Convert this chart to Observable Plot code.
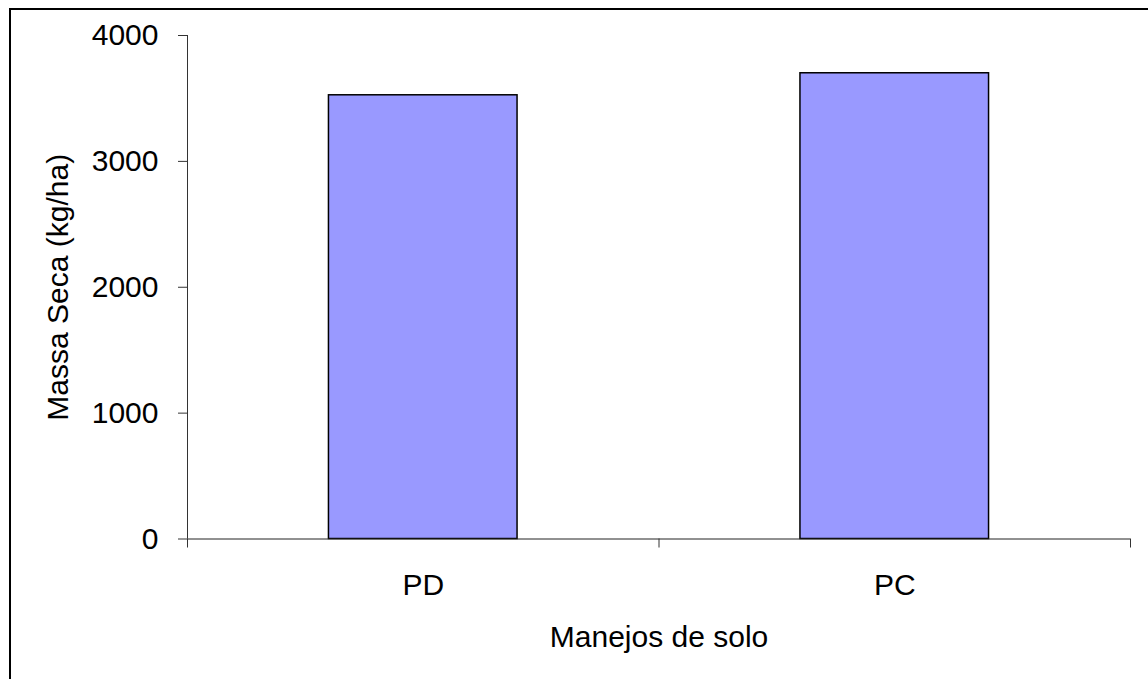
<!DOCTYPE html>
<html><head><meta charset="utf-8">
<script src="https://cdn.jsdelivr.net/npm/d3@7"></script>
<script src="https://cdn.jsdelivr.net/npm/@observablehq/plot@0.6"></script>
<style>
html,body{margin:0;padding:0;background:#fff;}
#wrap{position:relative;width:1148px;height:679px;overflow:hidden;}
#border{position:absolute;left:9px;top:8px;width:1200px;height:800px;border-left:2px solid #000;border-top:2px solid #000;box-sizing:border-box;pointer-events:none;}
</style></head><body>
<div id="wrap"><div id="chart"></div><div id="border"></div></div>
<script>
const categories = ["PD", "PC"];
const values = [3525, 3700];
const yTicks = [0, 1000, 2000, 3000, 4000];
const xLabel = "Manejos de solo";
const yLabel = "Massa Seca (kg/ha)";

const data = categories.map((c, i) => ({c, i, v: values[i]}));
const n = categories.length;
const font = "'Liberation Sans', Arial, sans-serif";

const chart = Plot.plot({
  width: 1148, height: 679,
  marginLeft: 187, marginRight: 18, marginTop: 35, marginBottom: 140.5,
  style: {fontFamily: font, fontSize: "30px", background: "transparent", color: "#000"},
  x: {type: "linear", domain: [0, n], axis: null},
  y: {domain: [0, 4000], axis: null},
  marks: [
    Plot.rect(data, {x1: d => d.i + 0.3, x2: d => d.i + 0.7, y1: () => 0, y2: d => d.v,
      fill: "#9999FF", stroke: "#000", strokeWidth: 1.5}),
    Plot.ruleX([0], {stroke: "#333"}),
    Plot.ruleY([0], {stroke: "#222"}),
    Plot.axisY({ticks: yTicks, tickSize: 9, tickPadding: 20, tickFormat: d => String(d),
      label: null, stroke: "#333", fontSize: 30}),
    Plot.axisX({ticks: d3.range(n + 1), tickSize: 9, tickFormat: () => "", label: null, stroke: "#333"}),
    Plot.axisX({ticks: d3.range(n).map(i => i + 0.5), tickSize: 0, tickPadding: 35,
      tickFormat: t => categories[Math.floor(t)], label: null, fontSize: 30}),
    Plot.text([xLabel], {frameAnchor: "bottom", lineAnchor: "top", textAnchor: "middle", dy: 87, fontSize: 30}),
    Plot.text([yLabel], {frameAnchor: "left", rotate: -90, lineAnchor: "top", textAnchor: "middle",
      dx: -141, fontSize: 30})
  ]
});
document.getElementById("chart").appendChild(chart);
</script>
</body></html>
